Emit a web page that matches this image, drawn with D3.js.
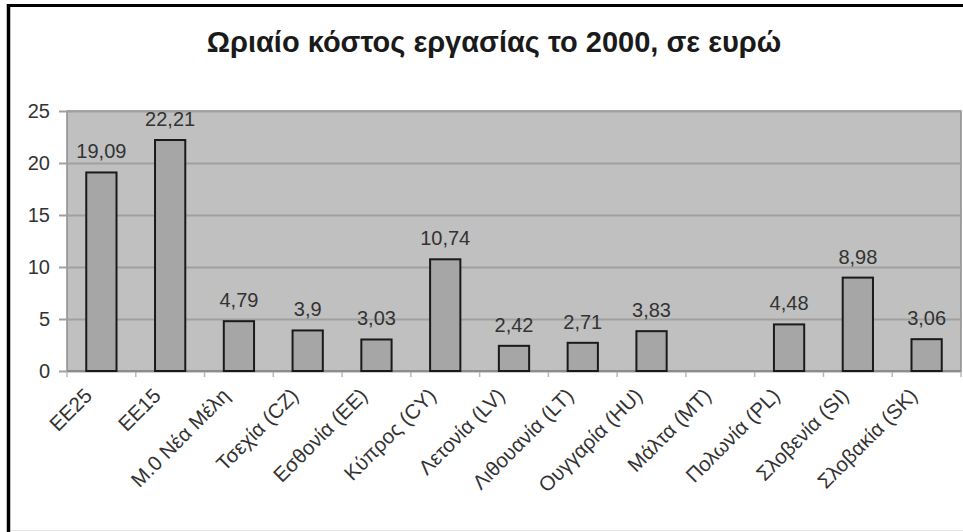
<!DOCTYPE html>
<html><head><meta charset="utf-8">
<script src="https://cdn.jsdelivr.net/npm/d3@7"></script>
<style>body{margin:0;background:#fff}svg{display:block}</style>
</head><body>
<svg id="c" width="963" height="532"></svg>
<script>
const title = "Ωριαίο κόστος εργασίας το 2000, σε ευρώ";
const categories = ["ΕΕ25","ΕΕ15","Μ.0 Νέα Μέλη","Τσεχία (CZ)","Εσθονία (ΕΕ)","Κύπρος (CY)","Λετονία (LV)","Λιθουανία (LT)","Ουγγαρία (HU)","Μάλτα (MT)","Πολωνία (PL)","Σλοβενία (SI)","Σλοβακία (SK)"];
const values = [19.09,22.21,4.79,3.9,3.03,10.74,2.42,2.71,3.83,null,4.48,8.98,3.06];
const yTicks = [0,5,10,15,20,25];

const svg = d3.select("#c");
const W = 963, H = 532;
const m = {left:67, right:2, top:111, bottom:161};
const x = d3.scaleBand().domain(categories).range([m.left, W - m.right]).paddingInner(0.56).paddingOuter(0.28);
const y = d3.scaleLinear().domain([0,25]).range([H - m.bottom, m.top]);
const font = "'Liberation Sans', Arial, sans-serif";

// frame
svg.append("line").attr("x1",8.5).attr("x2",8.5).attr("y1",4).attr("y2",H).attr("stroke","#000").attr("stroke-width",3.5);
svg.append("line").attr("x1",7).attr("x2",W).attr("y1",5.5).attr("y2",5.5).attr("stroke","#000").attr("stroke-width",3);
svg.append("line").attr("x1",11).attr("x2",W).attr("y1",530.5).attr("y2",530.5).attr("stroke","#e4e4e4").attr("stroke-width",1);

// title
svg.append("text").attr("x",494).attr("y",52).attr("text-anchor","middle")
  .attr("font-family",font).attr("font-weight","bold").attr("font-size",29).attr("fill","#1a1a1a").text(title);

// plot background
svg.append("rect").attr("x",m.left).attr("y",m.top).attr("width",W-m.right-m.left).attr("height",y(0)-m.top)
  .attr("fill","#c0c0c0").attr("stroke","#8c8c8c").attr("stroke-width",1.5);

// y axis with gridlines
const yAxis = d3.axisLeft(y).tickValues(yTicks).tickSize(-(W-m.right-m.left)).tickSizeOuter(0).tickPadding(17);
const gy = svg.append("g").attr("transform",`translate(${m.left},0)`).call(yAxis);
gy.select(".domain").remove();
gy.selectAll(".tick line").attr("stroke","#a0a0a0").attr("stroke-width",2).attr("x1",-8);
gy.selectAll(".tick text").attr("font-family",font).attr("font-size",20).attr("fill","#333");

// x axis
const bounds = categories.map((c,i)=> m.left + i*x.step());
bounds.push(W - m.right);
svg.append("g").selectAll("line").data(bounds).join("line")
  .attr("x1",d=>d).attr("x2",d=>d).attr("y1",y(0)).attr("y2",y(0)+6).attr("stroke","#b8b8b8").attr("stroke-width",1.5);
svg.append("line").attr("x1",m.left).attr("x2",W-m.right).attr("y1",y(0)).attr("y2",y(0)).attr("stroke","#8c8c8c").attr("stroke-width",2);

const xAxis = d3.axisBottom(x).tickSize(0).tickSizeOuter(0);
const gx = svg.append("g").attr("transform",`translate(0,${y(0)})`).call(xAxis);
gx.select(".domain").remove();
gx.selectAll(".tick text")
  .attr("font-family",font).attr("font-size",20.5).attr("fill","#333")
  .attr("text-anchor","end").attr("y",0).attr("dy",0)
  .attr("transform","translate(-8,26) rotate(-45)");

// bars
const data = categories.map((c,i)=>({c, v: values[i]})).filter(d=>d.v!=null);
svg.append("g").selectAll("rect").data(data).join("rect")
  .attr("x",d=>x(d.c)).attr("width",x.bandwidth())
  .attr("y",d=>y(d.v)).attr("height",d=>y(0)-y(d.v))
  .attr("fill","#a6a6a6").attr("stroke","#1a1a1a").attr("stroke-width",2);

// value labels
svg.append("g").selectAll("text").data(data).join("text")
  .attr("x",d=>x(d.c)+x.bandwidth()/2).attr("y",d=>y(d.v)-14)
  .attr("text-anchor","middle").attr("font-family",font).attr("font-size",20).attr("fill","#333")
  .text(d=>String(d.v).replace(".",","));
</script>
</body></html>
